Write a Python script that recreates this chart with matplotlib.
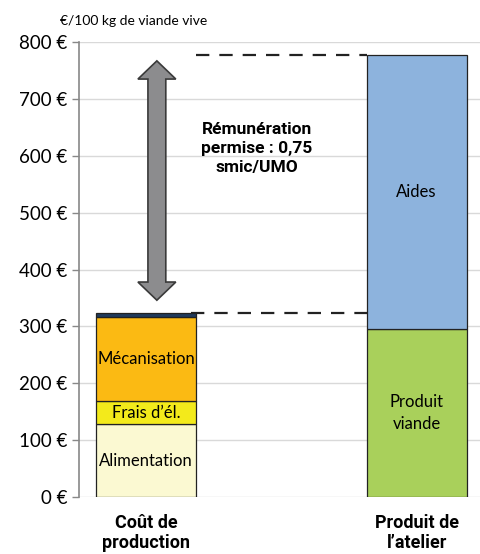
import matplotlib.pyplot as plt
from matplotlib.patches import Polygon
import numpy as np

# values in €/100 kg de viande vive
categories = ["Coût de\nproduction", "Produit de\nl\u2019atelier"]
cout_labels = ["Alimentation", "Frais d\u2019él.", "Mécanisation", ""]
cout_values = [128, 40, 148, 8]
cout_colors = ["#FBF9D2", "#F3EA1B", "#FBBA13", "#1F3A5C"]
produit_labels = ["Produit\nviande", "Aides"]
produit_values = [295, 482]
produit_colors = ["#A9D05B", "#8DB3DD"]
yticks = [0, 100, 200, 300, 400, 500, 600, 700, 800]

plt.rcParams['font.family'] = ['Lato', 'DejaVu Sans']
bold_font = ['Roboto', 'DejaVu Sans']

fig = plt.figure(figsize=(4.8, 5.54), dpi=100)
ax = fig.add_axes([0.165, 0.103, 0.835, 0.821])

x = np.arange(len(categories))
w = 0.37

bottom = 0
for lab, val, col in zip(cout_labels, cout_values, cout_colors):
    ax.bar(x[0], val, w, bottom=bottom, color=col, edgecolor="#222222", linewidth=0.9, zorder=3)
    if lab:
        ax.text(x[0], bottom + val / 2, lab, ha="center", va="center", fontsize=12, zorder=4)
    bottom += val
cout_total = bottom

bottom = 0
for lab, val, col in zip(produit_labels, produit_values, produit_colors):
    ax.bar(x[1], val, w, bottom=bottom, color=col, edgecolor="#222222", linewidth=0.9, zorder=3)
    ax.text(x[1], bottom + val / 2, lab, ha="center", va="center", fontsize=12,
            linespacing=1.5, zorder=4)
    bottom += val
produit_total = bottom

# dashed guide lines
ax.plot([x[0] + w / 2 - 0.02, x[1] - w / 2], [cout_total, cout_total],
        color="#222222", lw=1.6, dashes=(6, 4.5), zorder=2)
ax.plot([x[0] + w / 2, x[1] - w / 2], [produit_total, produit_total],
        color="#222222", lw=1.6, dashes=(6, 4.5), zorder=2)

# double arrow between cost and product
ax_x = x[0] + 0.04
lo, hi = cout_total + 22, produit_total - 10
sw, hw, hl = 0.033, 0.07, 32
arrow = [(ax_x, hi), (ax_x + hw, hi - hl), (ax_x + sw, hi - hl), (ax_x + sw, lo + hl),
         (ax_x + hw, lo + hl), (ax_x, lo), (ax_x - hw, lo + hl), (ax_x - sw, lo + hl),
         (ax_x - sw, hi - hl), (ax_x - hw, hi - hl)]
ax.add_patch(Polygon(arrow, closed=True, fc="#8C8C8E", ec="#3a3a3a", lw=1.2, zorder=4))

ax.text(0.41, 613, "Rémunération\npermise : 0,75\nsmic/UMO", ha="center", va="center",
        fontsize=12.5, fontweight="bold", family=bold_font, linespacing=1.3)

ax.set_xlim(-0.247, 1.234)
ax.set_ylim(0, 800)
ax.set_yticks(yticks)
ax.set_yticklabels([f"{t} €" for t in yticks], fontsize=13.5)
ax.set_xticks(x)
ax.set_xticklabels(categories, fontsize=13, fontweight="bold", family=bold_font,
                   linespacing=1.15)
ax.tick_params(axis="x", length=0, pad=12)
ax.tick_params(axis="y", length=5, color="#888888", width=1)
ax.grid(axis="y", color="#D9D9D9", lw=1, zorder=0)
for s in ["top", "right", "bottom"]:
    ax.spines[s].set_visible(False)
ax.spines["left"].set_color("#888888")
ax.spines["left"].set_linewidth(1.2)

fig.text(0.125, 0.962, "€/100 kg de viande vive", fontsize=10, ha="left", va="center")

fig.savefig("out.png", dpi=100)
